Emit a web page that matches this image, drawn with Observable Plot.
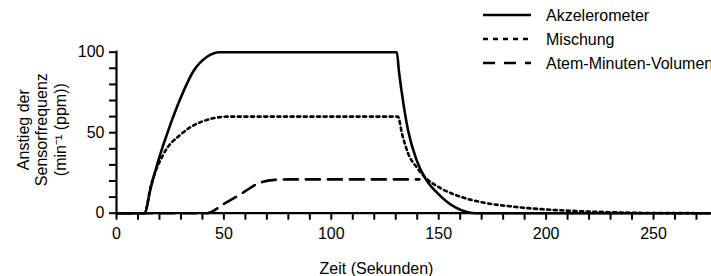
<!DOCTYPE html>
<html><head><meta charset="utf-8">
<script src="https://cdn.jsdelivr.net/npm/d3@7"></script>
<script src="https://cdn.jsdelivr.net/npm/@observablehq/plot@0.6"></script>
<style>
html,body{margin:0;padding:0;background:#fff;overflow:hidden;width:711px;height:276px}
#wrap{position:relative;width:711px;height:276px;overflow:hidden}
#wrap svg{display:block}
#legend{position:absolute;left:0;top:0}
</style></head><body><div id="wrap"></div>
<script>
// ---- data ----
const seriesNames = ["Akzelerometer", "Mischung", "Atem-Minuten-Volumen"];
const seriesDash = ["none", "3,3.6", "14,8"];
const legendDash = ["none", "5,5", "12,9"];

const accelTime  = [0, 13, 16, 20, 24, 30, 36, 42, 48, 130.5, 131.5, 132.7, 135.8, 139.7, 143.6, 149.8, 157.6, 167, 277];
const accelValue = [0, 0, 16, 35, 51, 72, 88.6, 97, 100, 100, 88, 76, 51, 33, 22, 12, 3.7, 0, 0];

const mixTime  = [0, 13, 16, 22, 30, 39, 52, 131, 133, 135.8, 139.7, 143.6, 151.4, 160.7, 170, 185, 200, 215, 230, 250, 277];
const mixValue = [0, 0, 17, 37, 49, 56.5, 60, 60, 49, 37, 28.6, 22.4, 15.2, 10, 6.8, 4, 2.3, 1.3, 0.6, 0.1, 0];

const mvTime  = [0, 42, 50, 58, 65.7, 73.5, 80, 141];
const mvValue = [0, 0, 5.8, 12, 18.3, 20.7, 21, 21];

const xTicks = d3.range(0, 271, 10);
const xLabels = [0, 50, 100, 150, 200, 250];
const yTicks = d3.range(0, 101, 10);
const yLabels = [0, 50, 100];
const xTitle = "Zeit (Sekunden)";
const yTitle = "Anstieg der\nSensorfrequenz\n(min\u207B\u00B9 (ppm))";

// ---- build table ----
const rows = [];
[[accelTime, accelValue], [mixTime, mixValue], [mvTime, mvValue]].forEach(([ts, vs], i) => {
  ts.forEach((t, j) => rows.push({t, v: vs[j], s: seriesNames[i]}));
});

const font = "'Liberation Sans', Arial, Helvetica, sans-serif";

const chart = Plot.plot({
  width: 711,
  height: 276,
  marginLeft: 116,
  marginRight: 0,
  marginTop: 51.7,
  marginBottom: 63.3,
  style: {fontFamily: font, fontSize: "16px", color: "#000", background: "#fff", overflow: "visible"},
  x: {domain: [0, 277]},
  y: {domain: [0, 100]},
  marks: [
    ...seriesNames.map((name, i) =>
      Plot.line(rows.filter(d => d.s === name), {
        x: "t", y: "v", stroke: "#000", strokeWidth: 2.6,
        strokeDasharray: seriesDash[i] === "none" ? null : seriesDash[i],
        curve: "monotone-x"
      })
    ),
    Plot.axisX({ticks: xTicks, tickSize: 7, tickPadding: 7, strokeWidth: 2,
      tickFormat: d => xLabels.includes(d) ? String(d) : "", label: null}),
    Plot.axisY({ticks: yTicks, tickSize: 7, tickPadding: 5, strokeWidth: 2,
      tickFormat: d => yLabels.includes(d) ? String(d) : "", label: null}),
    Plot.ruleY([0], {stroke: "#000", strokeWidth: 2.2, strokeLinecap: "square"}),
    Plot.ruleX([0], {y1: 0, y2: 100, stroke: "#000", strokeWidth: 2.2, strokeLinecap: "square"}),
    Plot.text([xTitle], {frameAnchor: "bottom-left", dx: 260, dy: 56, textAnchor: "middle", lineAnchor: "middle", fontSize: 16, fill: "#000"}),
    Plot.text([yTitle], {frameAnchor: "left", dx: -75, dy: -3, rotate: -90, textAnchor: "middle", lineAnchor: "middle", lineHeight: 1.15, fontSize: 16, fill: "#000"})
  ]
});

const wrap = document.getElementById("wrap");
wrap.appendChild(chart);

// ---- legend (overlay) ----
const legendRowsY = [15, 39, 63];
const lg = d3.create("svg").attr("id", "legend").attr("width", 711).attr("height", 80)
  .style("font-family", font).style("font-size", "16px");
seriesNames.forEach((name, i) => {
  lg.append("line").attr("x1", 483).attr("x2", 531).attr("y1", legendRowsY[i]).attr("y2", legendRowsY[i])
    .attr("stroke", "#000").attr("stroke-width", 2.6)
    .attr("stroke-dasharray", legendDash[i] === "none" ? null : legendDash[i]);
  lg.append("text").attr("x", 546).attr("y", legendRowsY[i]).attr("dy", "0.35em").attr("fill", "#000").text(name);
});
wrap.appendChild(lg.node());
</script>
</body></html>
